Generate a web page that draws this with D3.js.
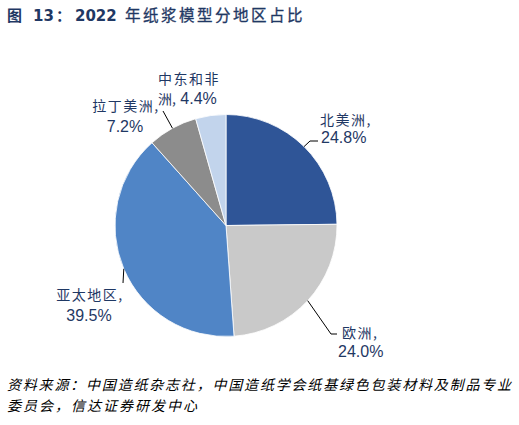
<!DOCTYPE html>
<html><head><meta charset="utf-8">
<script src="https://cdn.jsdelivr.net/npm/d3@7/dist/d3.min.js"></script>
<style>
html,body{margin:0;padding:0;background:#fff;}
svg{display:block;}
</style></head>
<body>
<svg id="chart" width="519" height="425"></svg>
<script>
// ---- data ----
const regions = ["北美洲", "欧洲", "亚太地区", "拉丁美洲", "中东和非洲"];
const shares = [24.8, 24.0, 39.5, 7.2, 4.4];
const shareLabels = ["24.8%", "24.0%", "39.5%", "7.2%", "4.4%"];
const sourceLines = ["资料来源：中国造纸杂志社，中国造纸学会纸基绿色包装材料及制品专业", "委员会，信达证券研发中心"];

// ---- style / layout ----
const colors = ["#2F5597", "#C9C9C9", "#5085C6", "#8C8C8C", "#C2D4EC"];
const cx = 226, cy = 225.5, R = 111;
const labelColor = "#1F3864";
const cjk = "'Noto Sans CJK SC', sans-serif";
const num = "'Liberation Sans', Arial, sans-serif";

const svg = d3.select("#chart");

// title
const title = svg.append("text").attr("y", 21).attr("fill", "#1F3864")
  .attr("font-weight", "bold");
title.append("tspan").attr("x", 7).attr("font-family", cjk).attr("font-size", 15).text("图");
title.append("tspan").attr("x", 33).attr("font-family", "'DejaVu Sans', sans-serif").attr("font-size", 15).text("13");
title.append("tspan").attr("x", 56).attr("font-family", cjk).attr("font-size", 15).text("：");
title.append("tspan").attr("x", 75).attr("font-family", "'DejaVu Sans', sans-serif").attr("font-size", 15).text("2022");
title.append("tspan").attr("x", 125).attr("font-family", cjk).attr("font-size", 15.5)
  .attr("letter-spacing", 2.5).attr("font-weight", "normal").attr("stroke", "#1F3864").attr("stroke-width", 0.3)
  .text("年纸浆模型分地区占比");

// pie
const pie = d3.pie().sort(null).value(d => d).startAngle(0).endAngle(2 * Math.PI);
const arcs = pie(shares);
const arc = d3.arc().innerRadius(0).outerRadius(R);
const g = svg.append("g").attr("transform", `translate(${cx},${cy})`);
g.selectAll("path").data(arcs).join("path")
  .attr("d", arc)
  .attr("fill", (d, i) => colors[i])
  .attr("stroke", "#fff").attr("stroke-width", 0.8);

// label layout
const layout = [
  {anchor: "start", x1: 320, x2: 321, y1: 125, y2: 143, pts: [[310, 141], [318, 141]]},
  {anchor: "start", x1: 342, x2: 338, y1: 338, y2: 357, pts: [[331, 334], [337, 334]]},
  {anchor: "middle", x1: 90, x2: 89, y1: 300, y2: 321, pts: [[123, 283]]},
  {anchor: "middle", x1: 126, x2: 125, y1: 111, y2: 132, pts: [[163, 111]]},
  {anchor: "start", x1: 158, x2: 158, y1: 84, y2: 104, pts: null}
];

arcs.forEach((a, i) => {
  const L = layout[i];
  const mid = (a.startAngle + a.endAngle) / 2;
  const sx = cx + R * Math.sin(mid), sy = cy - R * Math.cos(mid);
  if (L.pts) {
    const pts = [[sx, sy]].concat(L.pts);
    svg.append("path").attr("d", d3.line()(pts))
      .attr("fill", "none").attr("stroke", "#000").attr("stroke-width", 1);
  }
  if (i === 4) {
    svg.append("text").attr("x", L.x1).attr("y", L.y1).attr("fill", labelColor)
      .attr("font-family", cjk).attr("font-size", 14).attr("letter-spacing", 1.5).text("中东和非");
    const t = svg.append("text").attr("x", L.x2).attr("y", L.y2).attr("fill", labelColor);
    t.append("tspan").attr("font-family", cjk).attr("font-size", 14).text("洲,");
    t.append("tspan").attr("font-family", num).attr("font-size", 16).text(" " + shareLabels[i]);
  } else {
    svg.append("text").attr("x", L.x1).attr("y", L.y1).attr("text-anchor", L.anchor)
      .attr("fill", labelColor).attr("font-family", cjk).attr("font-size", 14)
      .attr("letter-spacing", 1.5).text(regions[i] + ",");
    svg.append("text").attr("x", L.x2).attr("y", L.y2).attr("text-anchor", L.anchor)
      .attr("fill", labelColor).attr("font-family", num).attr("font-size", 16)
      .text(shareLabels[i]);
  }
});

// source
svg.append("text").attr("x", 7).attr("y", 390).attr("font-family", cjk).attr("font-size", 14)
  .attr("font-style", "italic").attr("fill", "#000")
  .attr("textLength", 504).attr("lengthAdjust", "spacing").text(sourceLines[0]);
svg.append("text").attr("x", 7).attr("y", 411).attr("font-family", cjk).attr("font-size", 14)
  .attr("font-style", "italic").attr("fill", "#000")
  .attr("textLength", 190).attr("lengthAdjust", "spacing").text(sourceLines[1]);
</script>
</body></html>
